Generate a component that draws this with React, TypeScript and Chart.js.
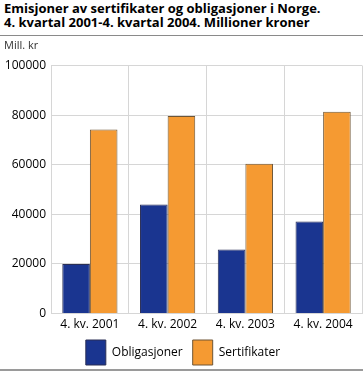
import React, { useEffect, useRef } from "react";
import { Chart, registerables } from "chart.js";

Chart.register(...registerables);

const titleLines = [
  "Emisjoner av sertifikater og obligasjoner i Norge.",
  "4. kvartal 2001-4. kvartal 2004. Millioner kroner",
];
const unitLabel = "Mill. kr";
const categories = ["4. kv. 2001", "4. kv. 2002", "4. kv. 2003", "4. kv. 2004"];
const seriesNames = ["Obligasjoner", "Sertifikater"];
const obligasjoner = [20000, 44000, 25800, 37100];
const sertifikater = [74200, 79600, 60400, 81400];
const yMin = 0;
const yMax = 100000;
const yStep = 20000;

const FONT = "'Open Sans', 'DejaVu Sans', sans-serif";

export default function App() {
  const canvasRef = useRef<HTMLCanvasElement | null>(null);

  useEffect(() => {
    const canvas = canvasRef.current;
    if (!canvas) return;
    const legendShift = {
      id: "legendShift",
      afterLayout(chart: any) {
        if (chart.legend) {
          chart.legend.top -= 6;
          chart.legend.bottom -= 6;
        }
      },
    };
    const chart = new Chart(canvas, {
      type: "bar",
      data: {
        labels: categories,
        datasets: [
          {
            label: seriesNames[0],
            data: obligasjoner,
            backgroundColor: "#1a3590",
            borderColor: "#2a2f55",
            borderWidth: 1,
          },
          {
            label: seriesNames[1],
            data: sertifikater,
            backgroundColor: "#f59a32",
            borderColor: "#6e5535",
            borderWidth: 1,
          },
        ],
      },
      options: {
        animation: false,
        responsive: false,
        maintainAspectRatio: false,
        datasets: {
          bar: { categoryPercentage: 0.71, barPercentage: 1 },
        },
        layout: { padding: { left: 4, right: 1, top: 0, bottom: 0 } },
        plugins: {
          title: {
            display: true,
            text: unitLabel,
            align: "start",
            color: "#333",
            font: { family: FONT, size: 11, weight: "normal" },
            padding: { top: 1, bottom: 13.3 },
          },
          legend: {
            display: true,
            position: "bottom",
            labels: {
              boxWidth: 20,
              boxHeight: 25,
              padding: 10,
              color: "#000",
              font: { family: FONT, size: 12 },
            },
          },
          tooltip: { enabled: false },
        },
        scales: {
          x: {
            grid: {
              color: "#d6d6d6",
              lineWidth: 1,
              drawTicks: false,
              offset: true,
            },
            border: { color: "#d6d6d6" },
            ticks: {
              color: "#000",
              padding: 4,
              font: { family: FONT, size: 12 },
            },
          },
          y: {
            min: yMin,
            max: yMax,
            grid: { color: "#d6d6d6", lineWidth: 1, drawTicks: false },
            border: { color: "#d6d6d6" },
            ticks: {
              stepSize: yStep,
              color: "#000",
              padding: 5,
              font: { family: FONT, size: 12 },
              callback: (v: any) => String(v),
            },
            afterFit: (scale: any) => {
              scale.width = 47;
            },
          },
        },
      },
      plugins: [legendShift],
    });
    return () => chart.destroy();
  }, []);

  return (
    <div
      style={{
        position: "absolute",
        left: 0,
        top: 0,
        width: 363,
        height: 372,
        overflow: "hidden",
        background: "#fff",
        fontFamily: FONT,
      }}
    >
      <div
        style={{
          position: "absolute",
          left: 4,
          top: 1,
          fontSize: 13,
          fontWeight: "bold",
          lineHeight: "14px",
          color: "#000",
          whiteSpace: "nowrap",
        }}
      >
        {titleLines.map((t, i) => (
          <div key={i}>{t}</div>
        ))}
      </div>
      <div
        style={{
          position: "absolute",
          left: 0,
          top: 35,
          width: 363,
          height: 1,
          background: "#8a8a8a",
        }}
      />
      <canvas
        ref={canvasRef}
        width={363}
        height={343}
        style={{ position: "absolute", left: 0, top: 38, width: 363, height: 343 }}
      />
      <div
        style={{
          position: "absolute",
          left: 0,
          top: 369,
          width: 363,
          height: 2,
          background: "#9a9a9a",
        }}
      />
    </div>
  );
}
